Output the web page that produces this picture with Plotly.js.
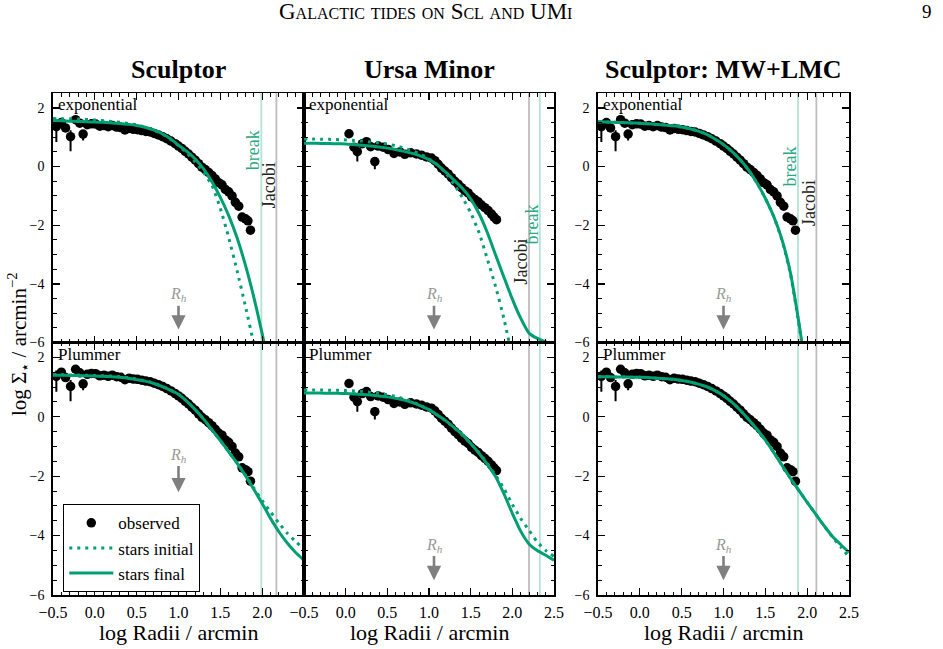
<!DOCTYPE html>
<html>
<head>
<meta charset="utf-8">
<script src="https://cdn.plot.ly/plotly-3.0.1.min.js"></script>
<style>
  html, body { margin: 0; padding: 0; background: #ffffff; }
  #chart { width: 943px; height: 649px; }
</style>
</head>
<body>
<div id="chart"></div>
<script>
// ---- Observed surface-density profiles (log R [arcmin], log Sigma [arcmin^-2]) ----
const sclLogR = [-0.46, -0.40, -0.35, -0.29, -0.23, -0.18, -0.14, -0.09, -0.04, 0.01, 0.06, 0.11,
  0.16, 0.21, 0.26, 0.31, 0.36, 0.41, 0.46, 0.51, 0.56, 0.61, 0.66, 0.71, 0.76, 0.81, 0.86,
  0.91, 0.96, 1.00, 1.04, 1.08, 1.12, 1.16, 1.20, 1.24, 1.28, 1.32, 1.36, 1.40, 1.44, 1.48,
  1.52, 1.56, 1.60, 1.64, 1.68, 1.72, 1.76, 1.80, 1.83, 1.86];
const sclLogSigma = [1.36, 1.50, 1.32, 1.02, 1.60, 1.48, 1.11, 1.43, 1.46, 1.45, 1.38, 1.40,
  1.36, 1.40, 1.35, 1.33, 1.25, 1.30, 1.27, 1.26, 1.23, 1.20, 1.18, 1.13, 1.08, 1.02, 0.95,
  0.87, 0.78, 0.70, 0.62, 0.52, 0.43, 0.32, 0.22, 0.10, -0.02, -0.10, -0.20, -0.30, -0.42, -0.55,
  -0.62, -0.78, -0.86, -1.00, -1.22, -1.35, -1.72, -1.78, -1.85, -2.17];
const sclErrLo = [0.52, 0.08, 0.10, 0.50, 0.06, 0.06, 0.22, 0.05, 0.04, 0.04, 0.04, 0.04,
  0.03, 0.03, 0.03, 0.03, 0.03, 0.03, 0.03, 0.03, 0.03, 0.03, 0.03, 0.03, 0.03, 0.03, 0.03,
  0.03, 0.03, 0.03, 0.03, 0.03, 0.03, 0.03, 0.03, 0.03, 0.03, 0.03, 0.04, 0.04, 0.04, 0.04,
  0.05, 0.05, 0.05, 0.06, 0.06, 0.07, 0.08, 0.08, 0.09, 0.10];
const sclErrHi = [0.20, 0.06, 0.08, 0.22, 0.05, 0.05, 0.14, 0.04, 0.03, 0.03, 0.03, 0.03,
  0.03, 0.03, 0.03, 0.03, 0.03, 0.03, 0.03, 0.03, 0.03, 0.03, 0.03, 0.03, 0.03, 0.03, 0.03,
  0.03, 0.03, 0.03, 0.03, 0.03, 0.03, 0.03, 0.03, 0.03, 0.03, 0.03, 0.03, 0.03, 0.03, 0.03,
  0.04, 0.04, 0.04, 0.05, 0.05, 0.06, 0.06, 0.07, 0.07, 0.08];

const umiLogR = [0.04, 0.10, 0.14, 0.20, 0.25, 0.30, 0.35, 0.39, 0.45, 0.51, 0.58, 0.65, 0.71,
  0.78, 0.85, 0.91, 0.97, 1.03, 1.07, 1.11, 1.15, 1.19, 1.23, 1.27, 1.31, 1.35, 1.39, 1.43,
  1.47, 1.51, 1.55, 1.59, 1.63, 1.67, 1.71, 1.75, 1.78, 1.81];
const umiLogSigma = [1.12, 0.66, 0.51, 0.78, 0.85, 0.68, 0.17, 0.70, 0.66, 0.58, 0.45, 0.50,
  0.42, 0.47, 0.43, 0.39, 0.33, 0.29, 0.20, 0.08, -0.05, -0.15, -0.25, -0.38, -0.50, -0.60,
  -0.72, -0.82, -0.90, -1.03, -1.12, -1.20, -1.31, -1.40, -1.50, -1.62, -1.72, -1.81];
const umiErrLo = [0.08, 0.10, 0.34, 0.06, 0.06, 0.06, 0.26, 0.05, 0.05, 0.04, 0.04, 0.04, 0.04,
  0.04, 0.04, 0.03, 0.03, 0.03, 0.03, 0.03, 0.03, 0.03, 0.03, 0.03, 0.03, 0.03, 0.03, 0.03,
  0.03, 0.03, 0.04, 0.04, 0.04, 0.04, 0.05, 0.05, 0.06, 0.06];
const umiErrHi = [0.06, 0.08, 0.20, 0.05, 0.05, 0.05, 0.16, 0.04, 0.04, 0.03, 0.03, 0.03, 0.03,
  0.03, 0.03, 0.03, 0.03, 0.03, 0.03, 0.03, 0.03, 0.03, 0.03, 0.03, 0.03, 0.03, 0.03, 0.03,
  0.03, 0.03, 0.03, 0.03, 0.03, 0.03, 0.04, 0.04, 0.05, 0.05];

// ---- Model stellar profiles on a common log-radius grid (-0.5 ... 2.5, step 0.1) ----
const modelLogR = [-0.5, -0.4, -0.3, -0.2, -0.1, 0.0, 0.1, 0.2, 0.3, 0.4, 0.5, 0.6, 0.7, 0.8,
  0.9, 1.0, 1.1, 1.2, 1.3, 1.4, 1.5, 1.6, 1.7, 1.8, 1.9, 2.0, 2.1, 2.2, 2.3, 2.4, 2.5];

// Sculptor, exponential
const sclExpInitial = [1.64, 1.63, 1.63, 1.62, 1.61, 1.59, 1.57, 1.54, 1.51, 1.47, 1.42, 1.35,
  1.25, 1.12, 0.94, 0.71, 0.46, 0.16, -0.20, -0.64, -1.42, -2.42, -3.55, -4.76, -6.05, -7.6,
  null, null, null, null, null];
const sclExpFinal = [1.57, 1.56, 1.55, 1.54, 1.53, 1.52, 1.51, 1.49, 1.47, 1.44, 1.40, 1.34,
  1.25, 1.13, 0.96, 0.73, 0.52, 0.26, -0.08, -0.52, -1.05, -1.67, -2.43, -3.36, -4.45, -5.70,
  -7.1, null, null, null, null];
// Sculptor, Plummer
const sclPlumInitial = [1.42, 1.42, 1.41, 1.41, 1.40, 1.39, 1.38, 1.37, 1.35, 1.32, 1.27, 1.21,
  1.14, 1.03, 0.91, 0.76, 0.52, 0.24, -0.08, -0.44, -0.80, -1.18, -1.56, -1.96, -2.40, -2.82,
  -3.20, -3.58, -3.92, -4.20, -4.45];
const sclPlumFinal = [1.40, 1.40, 1.39, 1.39, 1.38, 1.37, 1.36, 1.35, 1.33, 1.30, 1.25, 1.20,
  1.13, 1.02, 0.90, 0.76, 0.52, 0.24, -0.08, -0.44, -0.80, -1.18, -1.56, -1.98, -2.44, -2.92,
  -3.42, -3.87, -4.25, -4.57, -4.83];
// Ursa Minor, exponential
const umiExpInitial = [0.94, 0.94, 0.93, 0.93, 0.92, 0.91, 0.89, 0.87, 0.84, 0.81, 0.77, 0.71,
  0.63, 0.54, 0.42, 0.27, 0.06, -0.22, -0.60, -1.05, -1.57, -2.25, -3.15, -4.10, -5.20, -6.5,
  null, null, null, null, null];
const umiExpFinal = [0.80, 0.80, 0.79, 0.79, 0.78, 0.77, 0.75, 0.73, 0.70, 0.67, 0.63, 0.58,
  0.52, 0.45, 0.36, 0.24, 0.06, -0.19, -0.46, -0.74, -1.10, -1.60, -2.25, -3.02, -3.78, -4.52,
  -5.17, -5.68, -5.86, -5.98, -6.10];
// Ursa Minor, Plummer
const umiPlumInitial = [0.90, 0.90, 0.90, 0.89, 0.89, 0.88, 0.87, 0.85, 0.82, 0.79, 0.74, 0.68,
  0.60, 0.50, 0.38, 0.24, 0.06, -0.14, -0.37, -0.62, -0.90, -1.21, -1.57, -1.97, -2.42, -2.95,
  -3.42, -3.82, -4.22, -4.50, -4.70];
const umiPlumFinal = [0.80, 0.80, 0.80, 0.79, 0.79, 0.78, 0.77, 0.75, 0.73, 0.70, 0.67, 0.62,
  0.56, 0.48, 0.37, 0.24, 0.06, -0.13, -0.36, -0.60, -0.90, -1.23, -1.60, -2.02, -2.60, -3.25,
  -3.85, -4.28, -4.50, -4.66, -4.83];
// Sculptor with MW+LMC, exponential
const lmcExpInitial = [1.53, 1.52, 1.51, 1.50, 1.49, 1.48, 1.46, 1.44, 1.42, 1.39, 1.35, 1.29,
  1.21, 1.10, 0.94, 0.75, 0.52, 0.23, -0.12, -0.56, -1.08, -1.70, -2.52, -3.66, -5.35, -7.3,
  null, null, null, null, null];
const lmcExpFinal = [1.53, 1.52, 1.51, 1.50, 1.49, 1.48, 1.46, 1.44, 1.42, 1.39, 1.35, 1.29,
  1.21, 1.10, 0.94, 0.75, 0.52, 0.23, -0.12, -0.56, -1.08, -1.70, -2.50, -3.62, -5.30, -7.2,
  null, null, null, null, null];
// Sculptor with MW+LMC, Plummer
const lmcPlumInitial = [1.35, 1.35, 1.34, 1.34, 1.33, 1.33, 1.32, 1.30, 1.28, 1.26, 1.22, 1.17,
  1.10, 1.01, 0.88, 0.71, 0.49, 0.22, -0.09, -0.42, -0.79, -1.20, -1.64, -2.07, -2.48, -2.88,
  -3.27, -3.66, -4.04, -4.38, -4.72];
const lmcPlumFinal = [1.35, 1.35, 1.34, 1.34, 1.33, 1.33, 1.32, 1.30, 1.28, 1.26, 1.22, 1.17,
  1.10, 1.01, 0.88, 0.71, 0.49, 0.22, -0.09, -0.42, -0.79, -1.20, -1.64, -2.07, -2.48, -2.88,
  -3.27, -3.66, -4.02, -4.30, -4.57];

// ---- Reference radii (log arcmin) per column: Sculptor, Ursa Minor, Sculptor MW+LMC ----
const columnTitles = ['Sculptor', 'Ursa Minor', 'Sculptor: MW+LMC'];
const breakLogR = [1.99, 2.33, 1.89];
const jacobiLogR = [2.17, 2.20, 2.11];
const halfLightLogR = [1.0, 1.06, 1.0];
const profileNames = ['exponential', 'Plummer'];

// ---- Styling ----
const FONT = 'Liberation Serif, Times New Roman, serif';
const GREEN = '#009e73';
const BREAK_COLOR = '#b4e2d4';
const JACOBI_COLOR = '#bdbdbd';
const ARROW_GRAY = '#808080';

const obsData = [
  {x: sclLogR, y: sclLogSigma, lo: sclErrLo, hi: sclErrHi},
  {x: umiLogR, y: umiLogSigma, lo: umiErrLo, hi: umiErrHi},
  {x: sclLogR, y: sclLogSigma, lo: sclErrLo, hi: sclErrHi}
];
// models[row][col] = [initial, final]
const models = [
  [[sclExpInitial, sclExpFinal], [umiExpInitial, umiExpFinal], [lmcExpInitial, lmcExpFinal]],
  [[sclPlumInitial, sclPlumFinal], [umiPlumInitial, umiPlumFinal], [lmcPlumInitial, lmcPlumFinal]]
];

// Panel geometry in paper coordinates (row 0 = top)
const W = 943, H = 649;
const colPx = [[53, 304], [304, 554], [598, 849]];
const rowPx = [[93.3, 342.5], [342.5, 595]];
const xDom = colPx.map(p => [p[0] / W, p[1] / W]);
const yDom = rowPx.map(p => [1 - p[1] / H, 1 - p[0] / H]);

function axisIndex(row, col) { return row * 3 + col + 1; }
function suffix(i) { return i === 1 ? '' : String(i); }

const traces = [];
const layout = {
  width: W, height: H,
  margin: {l: 0, r: 0, t: 0, b: 0},
  paper_bgcolor: '#ffffff',
  plot_bgcolor: '#ffffff',
  font: {family: FONT, size: 16, color: '#000000'},
  showlegend: true,
  legend: {
    x: 63 / W, y: 1 - 504 / H, xanchor: 'left', yanchor: 'top',
    bgcolor: '#ffffff', bordercolor: '#000000', borderwidth: 1.3,
    font: {family: FONT, size: 17, color: '#000000'},
    tracegroupgap: 0, itemwidth: 44
  },
  shapes: [],
  annotations: []
};

const xTickVals = [-0.5, 0, 0.5, 1.0, 1.5, 2.0, 2.5];
const yTickVals = [-6, -4, -2, 0, 2];

for (let row = 0; row < 2; row++) {
  for (let col = 0; col < 3; col++) {
    const i = axisIndex(row, col);
    const xs = 'x' + suffix(i), ys = 'y' + suffix(i);
    const firstLegend = (row === 1 && col === 0);

    // x axis
    const xText = xTickVals.map(v => (v < 0 ? '\u2212' : '') + Math.abs(v).toFixed(1));
    if (col === 0) xText[xText.length - 1] = '';
    layout['xaxis' + suffix(i)] = {
      domain: xDom[col], anchor: ys, range: [-0.5, 2.5],
      tickmode: 'array', tickvals: xTickVals, ticktext: xText,
      showticklabels: row === 1,
      ticks: 'inside', ticklen: 7, tickwidth: 1.3, tickcolor: '#000000',
      minor: {dtick: 0.1, tick0: 0, ticks: 'inside', ticklen: 3.5, tickwidth: 1, tickcolor: '#000000'},
      showline: true, linecolor: '#000000', linewidth: 1.8, mirror: 'allticks',
      showgrid: false, zeroline: false, fixedrange: true,
      tickfont: {family: FONT, size: 16, color: '#000000'}, ticklabelstandoff: 2
    };
    // y axis
    layout['yaxis' + suffix(i)] = {
      domain: yDom[row], anchor: xs, range: [-6, 2.5],
      tickmode: 'array', tickvals: yTickVals,
      ticktext: yTickVals.map(v => (v < 0 ? '\u2212' : '') + Math.abs(v)),
      showticklabels: col !== 1,
      ticks: 'inside', ticklen: 7, tickwidth: 1.3, tickcolor: '#000000',
      minor: {dtick: 0.5, tick0: 0, ticks: 'inside', ticklen: 3.5, tickwidth: 1, tickcolor: '#000000'},
      showline: true, linecolor: '#000000', linewidth: 1.8, mirror: 'allticks',
      showgrid: false, zeroline: false, fixedrange: true,
      tickfont: {family: FONT, size: 14, color: '#000000'}, ticklabelstandoff: 4
    };

    // reference radii
    layout.shapes.push({type: 'line', xref: xs, yref: ys + ' domain', x0: breakLogR[col], x1: breakLogR[col],
      y0: 0, y1: 1, line: {color: BREAK_COLOR, width: 1.8}, layer: 'below'});
    layout.shapes.push({type: 'line', xref: xs, yref: ys + ' domain', x0: jacobiLogR[col], x1: jacobiLogR[col],
      y0: 0, y1: 1, line: {color: JACOBI_COLOR, width: 1.8}, layer: 'below'});

    // observed points
    const obs = obsData[col];
    traces.push({
      type: 'scatter', mode: 'markers', x: obs.x, y: obs.y, xaxis: xs, yaxis: ys,
      name: 'observed', legendrank: 1, showlegend: firstLegend,
      marker: {color: '#000000', size: 9.5, line: {width: 0}},
      error_y: {type: 'data', symmetric: false, array: obs.hi, arrayminus: obs.lo,
        color: '#000000', thickness: 2, width: 0}
    });
    // model curves
    const pair = models[row][col];
    traces.push({
      type: 'scatter', mode: 'lines', x: modelLogR, y: pair[0], xaxis: xs, yaxis: ys,
      name: 'stars initial', legendrank: 2, showlegend: firstLegend, connectgaps: false,
      line: {color: GREEN, width: 3, dash: '3px,5px', shape: 'spline', smoothing: 0.5}
    });
    traces.push({
      type: 'scatter', mode: 'lines', x: modelLogR, y: pair[1], xaxis: xs, yaxis: ys,
      name: 'stars final', legendrank: 3, showlegend: firstLegend, connectgaps: false,
      line: {color: GREEN, width: 3, shape: 'spline', smoothing: 0.5}
    });

    // profile label
    layout.annotations.push({
      xref: xs + ' domain', yref: ys + ' domain', x: 0.012, y: 1.0,
      xanchor: 'left', yanchor: 'top', showarrow: false,
      text: profileNames[row], font: {family: FONT, size: 17, color: '#000000'}
    });
  }
}

// Half-light radius markers: label above, arrow pointing down
const rhTextY = [[-4.37, -4.37, -4.37], [-1.29, -4.32, -4.32]];
const rhHeadY = [[-5.56, -5.56, -5.56], [-2.54, -5.50, -5.50]];
for (let row = 0; row < 2; row++) {
  for (let col = 0; col < 3; col++) {
    const i = axisIndex(row, col);
    const xs = 'x' + suffix(i), ys = 'y' + suffix(i);
    layout.annotations.push({
      xref: xs, yref: ys, x: halfLightLogR[col], y: rhHeadY[row][col],
      axref: xs, ayref: ys, ax: halfLightLogR[col], ay: rhTextY[row][col],
      text: '<i>R</i><sub><i>h</i></sub>', font: {family: FONT, size: 16, color: '#999999'},
      showarrow: true, arrowhead: 2, arrowsize: 1.1, arrowwidth: 2.6, arrowcolor: ARROW_GRAY,
      standoff: 0, startstandoff: 0
    });
  }
}

// Break / Jacobi labels on the top row
const breakLabelY = [0.57, -1.98, 0.0];
const jacobiLabelY = [-0.62, -3.24, -1.23];
for (let col = 0; col < 3; col++) {
  const xs = 'x' + suffix(col + 1), ys = 'y' + suffix(col + 1);
  layout.annotations.push({
    xref: xs, yref: ys, x: breakLogR[col], y: breakLabelY[col], xshift: -8,
    text: 'break', textangle: -90, showarrow: false, xanchor: 'center', yanchor: 'middle',
    font: {family: FONT, size: 18, color: '#2aa783'}
  });
  layout.annotations.push({
    xref: xs, yref: ys, x: jacobiLogR[col], y: jacobiLabelY[col], xshift: -8,
    text: 'Jacobi', textangle: -90, showarrow: false, xanchor: 'center', yanchor: 'middle',
    font: {family: FONT, size: 18, color: '#222222'}
  });
}

// Column titles and axis titles
for (let col = 0; col < 3; col++) {
  const cx = (colPx[col][0] + colPx[col][1]) / 2 / W;
  layout.annotations.push({
    xref: 'paper', yref: 'paper', x: cx, y: 1 - 70 / H, xanchor: 'center', yanchor: 'middle',
    showarrow: false, text: '<b>' + columnTitles[col] + '</b>',
    font: {family: FONT, size: 26, color: '#000000'}
  });
  layout.annotations.push({
    xref: 'paper', yref: 'paper', x: cx, y: 1 - 632 / H, xanchor: 'center', yanchor: 'middle',
    showarrow: false, text: 'log Radii / arcmin',
    font: {family: FONT, size: 22, color: '#000000'}
  });
}
layout.annotations.push({
  xref: 'paper', yref: 'paper', x: 18 / W, y: 1 - 344 / H, xanchor: 'center', yanchor: 'middle',
  showarrow: false, textangle: -90, text: 'log \u03a3<sub>\u22c6</sub> / arcmin<sup>\u22122</sup>',
  font: {family: FONT, size: 21, color: '#000000'}
});
// Running header
layout.annotations.push({
  xref: 'paper', yref: 'paper', x: 425 / W, y: 1 - 12 / H, xanchor: 'center', yanchor: 'middle',
  showarrow: false, text: 'Galactic tides on Scl and UMi',
  font: {family: FONT, size: 23, color: '#000000', variant: 'small-caps'}
});
layout.annotations.push({
  xref: 'paper', yref: 'paper', x: 927 / W, y: 1 - 12 / H, xanchor: 'center', yanchor: 'middle',
  showarrow: false, text: '9', font: {family: FONT, size: 19, color: '#000000'}
});

Plotly.newPlot('chart', traces, layout, {displayModeBar: false, staticPlot: true});
</script>
</body>
</html>
